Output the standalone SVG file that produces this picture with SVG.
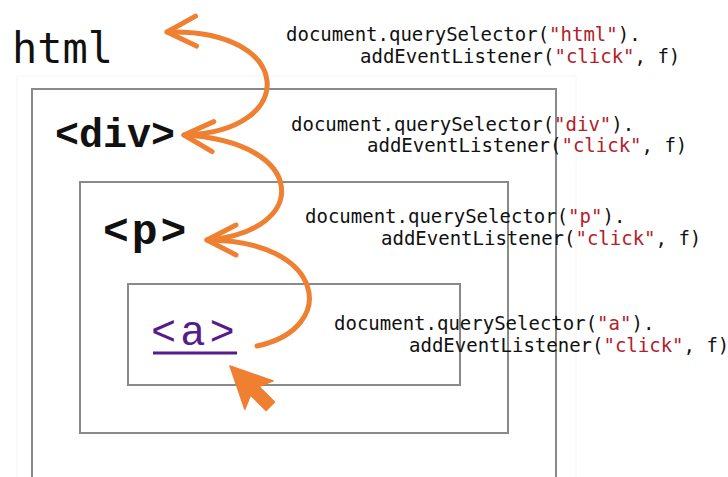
<svg xmlns="http://www.w3.org/2000/svg" width="728" height="477" viewBox="0 0 728 477">
<defs>
<style>
.box{fill:none;stroke:#8a8a8a;stroke-width:2}
.code{font-family:"DejaVu Sans Mono","Liberation Mono",monospace;font-size:19px;fill:#111}
.str{fill:#b3202a}
.tag{font-family:"Liberation Mono","DejaVu Sans Mono",monospace;font-size:40px;font-weight:bold;fill:#111}
.curve{fill:none;stroke:#ef7f31;stroke-width:5;stroke-linecap:round}
</style>
<marker id="ah" markerUnits="userSpaceOnUse" markerWidth="40" markerHeight="40" refX="0" refY="0" orient="auto" overflow="visible">
<path d="M-29,-15 L0,0 L-29,15" fill="none" stroke="#ef7f31" stroke-width="5" stroke-linecap="round" stroke-linejoin="round"/>
</marker>
</defs>
<rect width="728" height="477" fill="#fff"/>
<rect x="17" y="76" width="559" height="430" fill="none" stroke="#f6f6f6" stroke-width="1"/>

<g id="html">
<text x="12" y="63" style="font-family:'DejaVu Sans Mono',monospace;font-size:42px;fill:#111">html</text>
<text class="code" x="286" y="41">document.querySelector(<tspan class="str">"html"</tspan>).</text>
<text class="code" x="360" y="63">addEventListener(<tspan class="str">"click"</tspan>, f)</text>
</g>

<g id="div">
<rect class="box" x="32" y="89" width="524" height="420"/>
<text class="tag" x="55" y="147">&lt;div&gt;</text>
<text class="code" x="291" y="131">document.querySelector(<tspan class="str">"div"</tspan>).</text>
<text class="code" x="367" y="152">addEventListener(<tspan class="str">"click"</tspan>, f)</text>
</g>

<g id="p">
<rect class="box" x="80" y="182" width="428" height="251"/>
<text class="tag" x="103" y="244" style="font-size:43px;letter-spacing:3px">&lt;p&gt;</text>
<text class="code" x="305" y="223">document.querySelector(<tspan class="str">"p"</tspan>).</text>
<text class="code" x="381" y="245">addEventListener(<tspan class="str">"click"</tspan>, f)</text>
</g>

<g id="a">
<rect class="box" x="128" y="284" width="332" height="101"/>
<text x="151" y="345" style="font-family:'Liberation Mono','DejaVu Sans Mono',monospace;font-size:42px;letter-spacing:4px;fill:#561c8c">&lt;a&gt;</text>
<line x1="153" y1="353" x2="237" y2="353" stroke="#561c8c" stroke-width="3"/>
<text class="code" x="334" y="330">document.querySelector(<tspan class="str">"a"</tspan>).</text>
<text class="code" x="409" y="352">addEventListener(<tspan class="str">"click"</tspan>, f)</text>
</g>

<g id="connectors">
<path class="curve" d="M257,346 C340,328 325,240 207,240" marker-end="url(#ah)"/>
<path class="curve" d="M207,240 C310,232 310,142 184,135" marker-end="url(#ah)"/>
<path class="curve" d="M184,135 C300,132 295,28 167,32" marker-end="url(#ah)"/>
</g>

<g id="cursor">
<polygon points="0,0 41,-20 35,-6 57,-6 57,6 35,6 41,20" fill="#ef7f31" stroke="#ef7f31" stroke-width="1.5" stroke-linejoin="round" transform="translate(230,366) rotate(45)"/>
</g>
</svg>
